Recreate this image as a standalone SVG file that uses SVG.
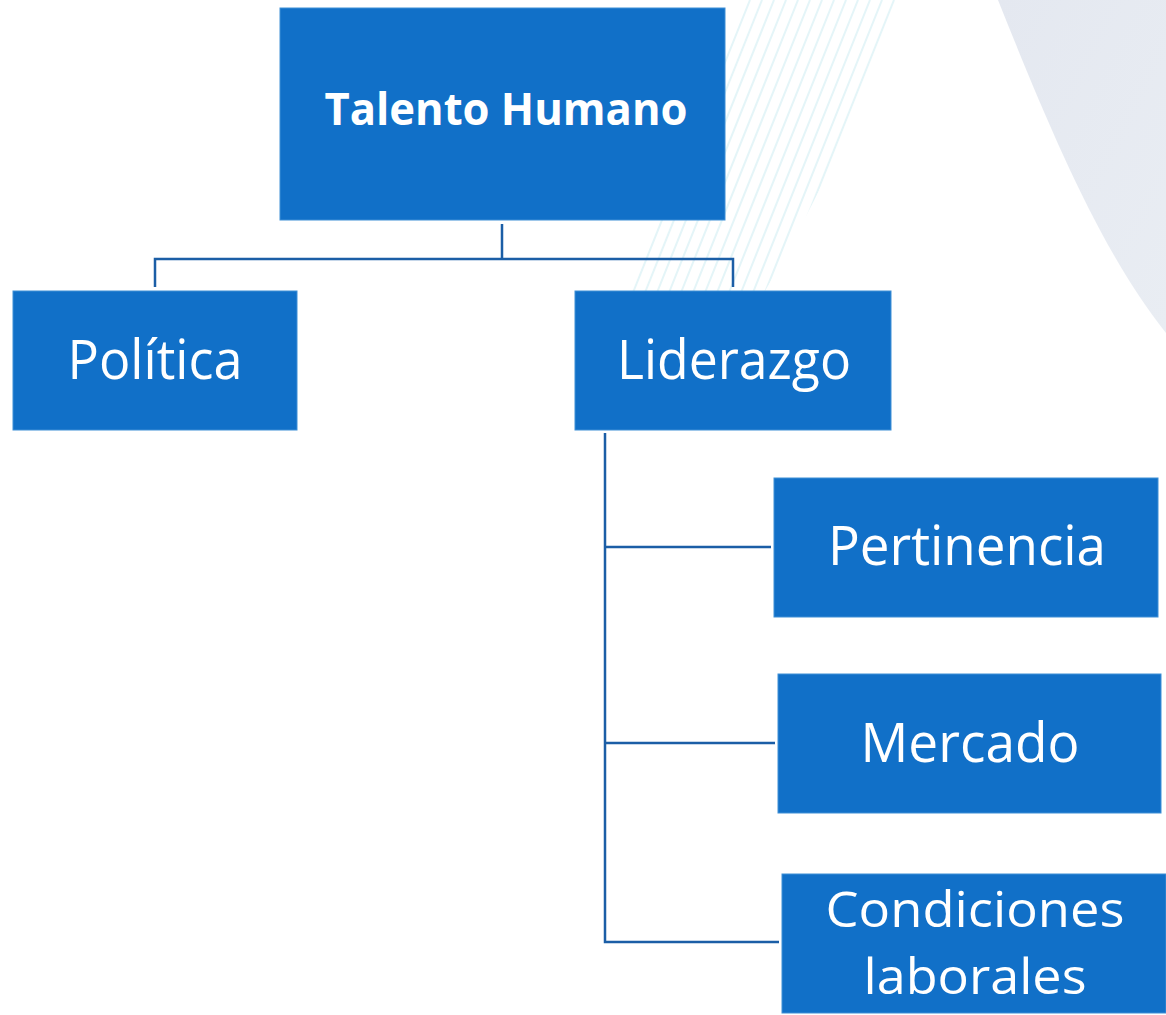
<svg xmlns="http://www.w3.org/2000/svg" width="1166" height="1015" viewBox="0 0 1166 1015">
<defs>
<style>
.box{fill:#1170c8;stroke:#3f8fd6;stroke-width:1}
.t{fill:#ffffff;font-family:"Open Sans","Liberation Sans",sans-serif;font-size:55px;text-anchor:middle}
.tb{font-weight:bold;font-size:44px}
.ts{font-size:49px}
.c{fill:none;stroke:#1b5ea6;stroke-width:2.5}
.st{stroke:#d9f1f5;stroke-width:2;opacity:0.7}
</style>
<linearGradient id="gr" x1="0" y1="0" x2="1" y2="1">
<stop offset="0" stop-color="#e4e8f0"/>
<stop offset="1" stop-color="#e9edf3"/>
</linearGradient>
<clipPath id="band">
<path d="M740,0 L900,0 C860,120 800,230 760,300 L620,300 C660,210 700,110 740,0 Z"/>
</clipPath>
</defs>
<rect width="1166" height="1015" fill="#ffffff"/>
<g id="background">
<path d="M998,0 C1050,130 1100,250 1166,333 L1166,0 Z" fill="url(#gr)"/>
<g clip-path="url(#band)">
<line class="st" x1="750" y1="0" x2="630" y2="300"/>
<line class="st" x1="762" y1="0" x2="642" y2="300"/>
<line class="st" x1="774" y1="0" x2="654" y2="300"/>
<line class="st" x1="786" y1="0" x2="666" y2="300"/>
<line class="st" x1="798" y1="0" x2="678" y2="300"/>
<line class="st" x1="810" y1="0" x2="690" y2="300"/>
<line class="st" x1="822" y1="0" x2="702" y2="300"/>
<line class="st" x1="834" y1="0" x2="714" y2="300"/>
<line class="st" x1="846" y1="0" x2="726" y2="300"/>
<line class="st" x1="858" y1="0" x2="738" y2="300"/>
<line class="st" x1="870" y1="0" x2="750" y2="300"/>
<line class="st" x1="882" y1="0" x2="762" y2="300"/>
<line class="st" x1="894" y1="0" x2="774" y2="300"/>
</g>
</g>
<g id="connectors">
<path class="c" d="M502,224 V259 M155,287 V259 H733 V287"/>
<path class="c" d="M605,433 V942 H779 M605,547 H771 M605,743 H775"/>
</g>
<g id="talento-humano">
<rect class="box" x="280" y="8" width="445" height="212"/>
<text class="t tb" x="506" y="125" textLength="363" lengthAdjust="spacingAndGlyphs">Talento Humano</text>
</g>
<g id="politica">
<rect class="box" x="13" y="291" width="284" height="139"/>
<text class="t" x="155" y="379" textLength="175" lengthAdjust="spacingAndGlyphs">Política</text>
</g>
<g id="liderazgo">
<rect class="box" x="575" y="291" width="316" height="139"/>
<text class="t" x="734" y="379" textLength="234" lengthAdjust="spacingAndGlyphs">Liderazgo</text>
</g>
<g id="pertinencia">
<rect class="box" x="774" y="478" width="384" height="139"/>
<text class="t" x="967" y="565" textLength="278" lengthAdjust="spacingAndGlyphs">Pertinencia</text>
</g>
<g id="mercado">
<rect class="box" x="778" y="674" width="383" height="139"/>
<text class="t" x="970" y="762" textLength="219" lengthAdjust="spacingAndGlyphs">Mercado</text>
</g>
<g id="condiciones-laborales">
<rect class="box" x="782" y="874" width="384" height="139"/>
<text class="t ts" x="975" y="927" textLength="299" lengthAdjust="spacingAndGlyphs">Condiciones</text>
<text class="t ts" x="975" y="994" textLength="223" lengthAdjust="spacingAndGlyphs">laborales</text>
</g>
</svg>
